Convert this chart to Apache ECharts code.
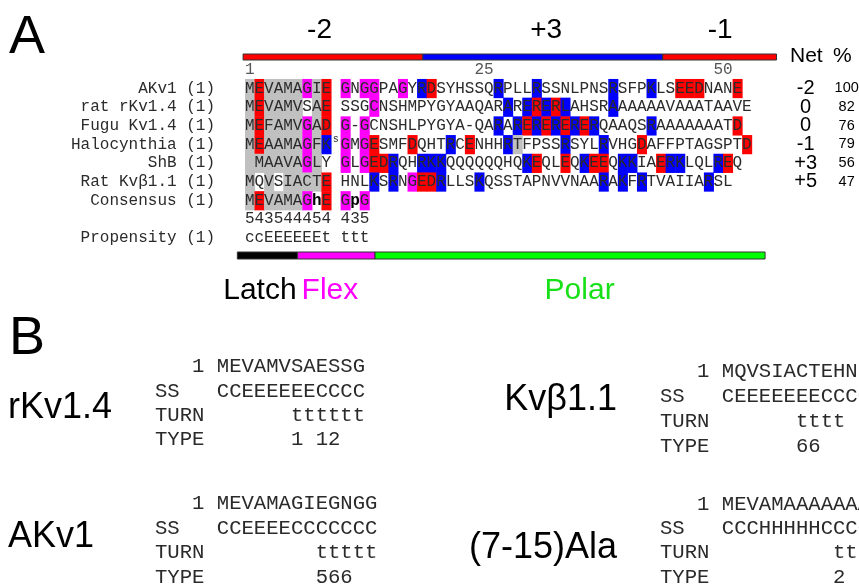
<!DOCTYPE html>
<html>
<head>
<meta charset="utf-8">
<script src="https://cdn.jsdelivr.net/npm/echarts@6.0.0/dist/echarts.min.js"></script>
<style>
  html, body { margin: 0; padding: 0; background: #fff; }
  #chart { width: 859px; height: 587px; }
</style>
</head>
<body>
<div id="chart"></div>
<script>
// ---- Panel A: N-terminal alignment (column 10 is the insertion column) ----
const trackNames = ['', 'AKv1', 'rat rKv1.4', 'Fugu Kv1.4', 'Halocynthia', 'ShB', 'Rat Kv\u03b21.1', 'Consensus', '', 'Propensity'];

const alignedSeqs = [
  'MEVAMAGIE GNGGPAGYRDSYHSSQRPLLRSSNLPNSRSFPKLSEEDNANE',
  'MEVAMVSAE SSGCNSHMPYGYAAQARARERERLAHSRAAAAAAVAAATAAVE',
  'MEFAMVGAD G-GCNSHLPYGYA-QARARERERERERQAAQSRAAAAAAATD',
  'MEAAMAGFKsGMGESMFDQHTRCENHHRTFPSSRSYLRVHGDAFFPTAGSPTD',
  ' MAAVAGLY GLGEDRQHRKKQQQQQQHQKEQLEQKEEQKKIAERKLQLREQ',
  'MQVSIACTE HNLKSRNGEDRLLSKQSSTAPNVVNAARAKFRTVAIIARSL'
];
// g = conserved (grey), r = acidic, b = basic, m = glycine, . = none
const shadeCodes = [
  'grggggmgr.m.mm..m.br......b...b.......b...b..rrr...r',
  'grgggg.gr....m.............b.brbrb....b..............r',
  'grggggmgr.m.m.............b.brbrbrbrb.....b........r',
  'grggggmgb.m.mr...r...b.r...bg....b...b...r..........r',
  'ggggggmg..m.mrrb..bbb........br..r.brr.bb..rbb...br.',
  'g.g.ggggr....b.b.mrrb...b............b.b.b......b..'
];
const consensusSeq = 'MEVAMAGhE GpG';
const consensusShade = 'grggggm.r.m.m';
const conservationScore = '543544454 435';
const propensity = 'ccEEEEEEt ttt';
const rulerTicks = [1, 25, 50];

const netCharge = ['-2', '0', '0', '-1', '+3', '+5'];
const identityPct = [100, 82, 76, 79, 56, 47];

// charge segments along the alignment (residue units) and their net charge
const chargeBreaks = [0.3, 19.1, 44.2, 56.1];
const regionNet = ['-2', '+3', '-1'];
// structural domains of the inactivation peptide
const domainBreaks = [-0.3, 6.0, 14.1, 54.9];
const domainNames = ['Latch', 'Flex', 'Polar'];

// ---- Panel B: secondary structure predictions ----
const peptideNames = ['rKv1.4', 'AKv1', 'Kv\u03b21.1', '(7-15)Ala'];
const peptideSeqs = ['MEVAMVSAESSG', 'MEVAMAGIEGNGG', 'MQVSIACTEHNLKS', 'MEVAMAAAAAAAAA'];
const peptideSS = ['CCEEEEEECCCC', 'CCEEEECCCCCCC', 'CEEEEEEECCCCCC', 'CCCHHHHHCCCCCC'];
const peptideTurn = ['      tttttt', '        ttttt', '      tttt', '         ttt'];
const peptideType = ['      1 12', '        566', '      66', '         2'];

// ---------------------------------------------------------------------------
const NCOL = 53;
const INSERT_COL = 10;
const SHADE = { g: '#c0c0c0', r: '#ff0000', b: '#0000ff', m: '#ff00ff' };
const MONO = '"Liberation Mono", "DejaVu Sans Mono", monospace';
const SANS = '"Liberation Sans", Arial, sans-serif';

const colCats = Array.from({ length: NCOL }, (_, i) => String(i + 1));

// build the cell list: one entry per character of every track
const cells = [];
function addTrack(row, text, shade, kind) {
  for (let i = 0; i < text.length; i++) {
    const ch = text[i];
    const code = shade ? shade[i] : '.';
    cells.push({ col: i, row, ch, fill: SHADE[code] || null, kind: kind, idx: i + 1 });
  }
}
// ruler: tick numbers end on their alignment column (insertion column is not counted)
rulerTicks.forEach(t => {
  const endCol = t < INSERT_COL ? t : t + 1;
  const s = String(t);
  for (let k = 0; k < s.length; k++) {
    cells.push({ col: endCol - s.length + k, row: 0, ch: s[k], fill: null, kind: 'ruler' });
  }
});
alignedSeqs.forEach((s, r) => addTrack(r + 1, s, shadeCodes[r], 'seq'));
addTrack(7, consensusSeq, consensusShade, 'consensus');
addTrack(8, conservationScore, null, 'plain');
addTrack(9, propensity, null, 'plain');

const shadedCells = cells.filter(c => c.fill);
const letterCells = cells.filter(c => c.ch !== ' ');

function letterStyle(c) {
  let font = '16px ' + MONO, fill = '#2b2b2b', dy = 0;
  if (c.kind === 'ruler') fill = '#555';
  if (c.kind === 'consensus' && c.ch >= 'a' && c.ch <= 'z') { font = 'bold 16px ' + MONO; fill = '#000'; }
  if (c.kind === 'seq' && c.idx === INSERT_COL) { font = '10px ' + MONO; dy = -5; }
  return { font, fill, dy };
}

const chart = echarts.init(document.getElementById('chart'), null, { renderer: 'canvas' });

const GRID_L = 245, CELL_W = 9.56, ROW_H = 18.7;
const GRID_R = 859 - (GRID_L + NCOL * CELL_W);

function bandGrid(top, height) {
  return { left: GRID_L, right: GRID_R, top, height, containLabel: false, outerBoundsMode: 'none', show: false };
}

// layout of region labels above / below the bars (residue units)
const chargeLabelAt = [8.3, 32.0, 50.2];
const domainLabelSpec = [
  { at: 6.0, dx: -1, align: 'right', color: '#000' },
  { at: 6.0, dx: 4, align: 'left', color: '#ff00ff' },
  { at: 35.5, dx: 0, align: 'center', color: '#18e018' }
];
const domainFill = ['#000000', '#ff00ff', '#00ff00'];
const chargeFill = ['#ff0000', '#0000ff', '#ff0000'];

function monoLines(x, ys, lines, anchor) {
  return lines.map((t, i) => ({
    type: 'text', x: x, y: ys[i], silent: true,
    style: { text: t, font: '20.6px ' + MONO, fill: '#2a2a2a', align: anchor || 'left', textAlign: anchor || 'left', verticalAlign: 'middle', textVerticalAlign: 'middle' }
  }));
}
function bigLabel(text, x, y, size, align) {
  return {
    type: 'text', x, y, silent: true,
    style: { text, font: size + 'px ' + SANS, fill: '#000', align: align || 'left', textAlign: align || 'left', verticalAlign: 'middle', textVerticalAlign: 'middle' }
  };
}

const graphics = [];
graphics.push(bigLabel('A', 9, 38, 54));
graphics.push(bigLabel('B', 9, 339, 54));
graphics.push(bigLabel('Net', 790, 56, 21));
graphics.push(bigLabel('%', 833, 56, 21));

const blockX = [155, 155, 660, 660];
const blockY = [[367, 392, 416, 440], [504, 529, 553, 578], [372, 397, 422, 447], [505, 529, 553, 578]];
const nameX = [8, 8, 617, 617];
const nameY = [408, 537, 400, 548];
const nameAlign = ['left', 'left', 'right', 'right'];
peptideNames.forEach((n, i) => {
  graphics.push(bigLabel(n, nameX[i], nameY[i], 36, nameAlign[i]));
  const lines = [
    '   1 ' + peptideSeqs[i],
    'SS   ' + peptideSS[i],
    'TURN ' + peptideTurn[i],
    'TYPE ' + peptideType[i]
  ];
  graphics.push(...monoLines(blockX[i], blockY[i], lines));
});

const option = {
  backgroundColor: '#fff',
  animation: false,
  grid: [
    bandGrid(60.25, ROW_H * trackNames.length),
    bandGrid(50, 14),
    bandGrid(248.5, 14)
  ],
  xAxis: [
    { type: 'category', gridIndex: 0, data: colCats, show: false, boundaryGap: true },
    { type: 'value', gridIndex: 1, min: 0.5, max: NCOL + 0.5, show: false },
    { type: 'value', gridIndex: 2, min: 0.5, max: NCOL + 0.5, show: false }
  ],
  yAxis: [
    {
      type: 'category', gridIndex: 0, data: trackNames, inverse: true,
      axisLine: { show: false }, axisTick: { show: false }, splitLine: { show: false },
      axisLabel: {
        interval: 0, hideOverlap: false,
        margin: 30, fontFamily: MONO, fontSize: 16, color: '#2b2b2b',
        formatter: v => v ? v + ' (1)' : ''
      }
    },
    {
      type: 'category', gridIndex: 0, data: trackNames, inverse: true, position: 'right',
      axisLine: { show: false }, axisTick: { show: false }, splitLine: { show: false },
      axisLabel: {
        interval: 0, hideOverlap: false,
        margin: 29,
        formatter: (v, i) => (i >= 1 && i <= netCharge.length) ? '{n|' + netCharge[i - 1] + '}{p|' + identityPct[i - 1] + '}' : '',
        rich: {
          n: { width: 50, align: 'center', fontSize: 20, fontFamily: SANS, color: '#000' },
          p: { width: 28, align: 'left', fontSize: 14.5, fontFamily: SANS, color: '#000', padding: [0, 0, 0, 2] }
        }
      }
    },
    { type: 'category', gridIndex: 1, data: ['charge'], show: false },
    { type: 'category', gridIndex: 2, data: ['domain'], show: false }
  ],
  series: [
    {
      name: 'shading', type: 'custom', xAxisIndex: 0, yAxisIndex: 0, silent: true,
      data: shadedCells.map(c => [c.col, c.row]),
      renderItem: (params, api) => {
        const c = shadedCells[params.dataIndex];
        const p = api.coord([api.value(0), api.value(1)]);
        const s = api.size([1, 1]);
        return {
          type: 'rect',
          shape: { x: p[0] - s[0] / 2, y: p[1] - s[1] / 2, width: s[0] + 0.5, height: s[1] + 0.5 },
          style: { fill: c.fill }
        };
      }
    },
    {
      name: 'residues', type: 'custom', xAxisIndex: 0, yAxisIndex: 0, silent: true,
      data: letterCells.map(c => [c.col, c.row]),
      renderItem: (params, api) => {
        const c = letterCells[params.dataIndex];
        const p = api.coord([api.value(0), api.value(1)]);
        const st = letterStyle(c);
        return {
          type: 'text',
          style: { text: c.ch, x: p[0], y: p[1] + st.dy, font: st.font, fill: st.fill, align: 'center', textAlign: 'center', verticalAlign: 'middle', textVerticalAlign: 'middle' }
        };
      }
    },
    {
      name: 'charge', type: 'custom', xAxisIndex: 1, yAxisIndex: 2, silent: true, clip: false,
      data: regionNet.map((n, i) => [chargeBreaks[i], chargeBreaks[i + 1], i]),
      renderItem: (params, api) => {
        const i = api.value(2);
        const a = api.coord([api.value(0), 0]);
        const b = api.coord([api.value(1), 0]);
        const l = api.coord([chargeLabelAt[i], 0]);
        return {
          type: 'group', children: [
            { type: 'rect', shape: { x: a[0], y: a[1] - 3, width: b[0] - a[0], height: 6 }, style: { fill: chargeFill[i], stroke: '#333', lineWidth: 1 } },
            { type: 'text', style: { text: regionNet[i], x: l[0], y: a[1] - 27, font: '28px ' + SANS, fill: '#000', align: 'center', textAlign: 'center', verticalAlign: 'middle', textVerticalAlign: 'middle' } }
          ]
        };
      }
    },
    {
      name: 'domain', type: 'custom', xAxisIndex: 2, yAxisIndex: 3, silent: true, clip: false,
      data: domainNames.map((n, i) => [domainBreaks[i], domainBreaks[i + 1], i]),
      renderItem: (params, api) => {
        const i = api.value(2);
        const a = api.coord([api.value(0), 0]);
        const b = api.coord([api.value(1), 0]);
        const spec = domainLabelSpec[i];
        const l = api.coord([spec.at, 0]);
        return {
          type: 'group', children: [
            { type: 'rect', shape: { x: a[0], y: a[1] - 3.5, width: b[0] - a[0], height: 7 }, style: { fill: domainFill[i], stroke: '#333', lineWidth: 1 } },
            { type: 'text', style: { text: domainNames[i], x: l[0] + spec.dx, y: a[1] + 35.5, font: '30px ' + SANS, fill: spec.color, align: spec.align, textAlign: spec.align, verticalAlign: 'middle', textVerticalAlign: 'middle' } }
          ]
        };
      }
    }
  ],
  graphic: graphics
};

chart.setOption(option);
</script>
</body>
</html>
